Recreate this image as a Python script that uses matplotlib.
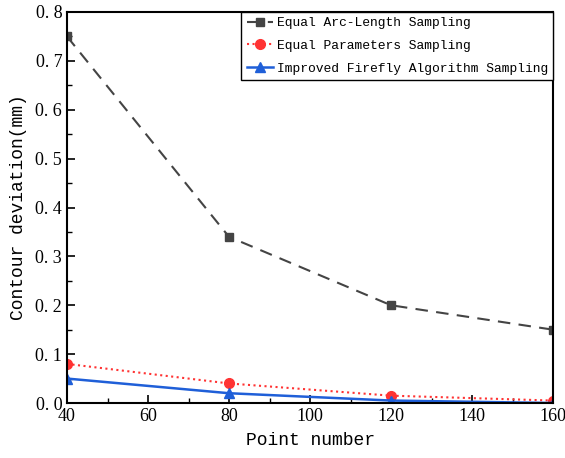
import numpy as np
import matplotlib.pyplot as plt
from matplotlib.ticker import MultipleLocator

points = [40, 80, 120, 160]
arc_length = [0.75, 0.34, 0.20, 0.15]
equal_params = [0.08, 0.04, 0.015, 0.005]
improved_ffa = [0.05, 0.02, 0.005, 0.0]
labels = ['Equal Arc-Length Sampling', 'Equal Parameters Sampling',
          'Improved Firefly Algorithm Sampling']

plt.rcParams['font.family'] = ['Liberation Serif', 'DejaVu Serif']

fig = plt.figure(figsize=(5.65, 4.58), dpi=100)
ax = fig.add_axes([67 / 565, 55 / 458, 486 / 565, 391 / 458])

ax.plot(points, arc_length, color='#444444', ls=(0, (6, 4)), lw=1.5,
        marker='s', ms=6, label=labels[0])
ax.plot(points, equal_params, color='#ff3333', ls=':', lw=1.5,
        marker='o', ms=7, label=labels[1])
ax.plot(points, improved_ffa, color='#1f5fd8', ls='-', lw=1.8,
        marker='^', ms=7, label=labels[2])

ax.set_xlim(40, 160)
ax.set_ylim(0, 0.8)
ax.xaxis.set_major_locator(MultipleLocator(20))
ax.xaxis.set_minor_locator(MultipleLocator(10))
ax.yaxis.set_major_locator(MultipleLocator(0.1))
ax.yaxis.set_minor_locator(MultipleLocator(0.05))
ax.yaxis.set_major_formatter(plt.FuncFormatter(lambda v, p: f'{v:.1f}'.replace('.', '. ')))
ax.tick_params(which='both', direction='in', labelsize=13)
ax.tick_params(which='major', length=6, width=1.2)
ax.tick_params(which='minor', length=3.5, width=1)
for s in ax.spines.values():
    s.set_linewidth(1.5)

mono = 'Liberation Mono'
ax.set_xlabel('Point number', fontsize=13, family=mono, labelpad=5)
ax.set_ylabel('Contour deviation(mm)', fontsize=13, family=mono, labelpad=6)

ax.legend(loc='upper right', fancybox=False, edgecolor='black', framealpha=1,
          borderaxespad=0, handlelength=2.0, handletextpad=0.3,
          labelspacing=0.8, borderpad=0.4,
          prop={'family': mono, 'size': 9.4})

fig.savefig('out.png')
